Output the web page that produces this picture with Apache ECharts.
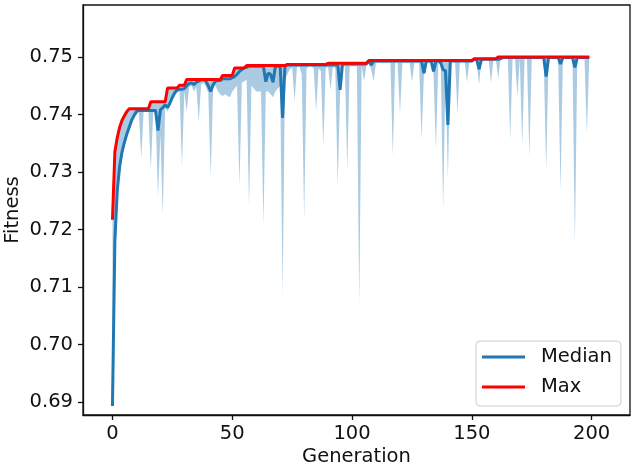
<!DOCTYPE html>
<html>
<head>
<meta charset="utf-8">
<script src="https://cdn.jsdelivr.net/npm/echarts@6/dist/echarts.min.js"></script>
<style>
  html, body { margin: 0; padding: 0; background: #fff; }
  #chart { width: 634px; height: 468px; }
</style>
</head>
<body>
<div id="chart"></div>
<script>
// best fitness per generation
const maxFit = [
  0.7217, 0.7335, 0.7360, 0.7378, 0.7390, 0.7398, 0.7405, 0.7410, 0.7410, 0.7410,
  0.7410, 0.7410, 0.7410, 0.7410, 0.7410, 0.7410, 0.7422, 0.7422, 0.7422, 0.7422,
  0.7422, 0.7422, 0.7422, 0.7446, 0.7446, 0.7446, 0.7446, 0.7446, 0.7451, 0.7451,
  0.7451, 0.7461, 0.7461, 0.7461, 0.7461, 0.7461, 0.7461, 0.7461, 0.7461, 0.7461,
  0.7461, 0.7461, 0.7461, 0.7461, 0.7461, 0.7461, 0.7468, 0.7468, 0.7468, 0.7468,
  0.7468, 0.7481, 0.7481, 0.7481, 0.7481, 0.7481, 0.7485, 0.7485, 0.7485, 0.7485,
  0.7485, 0.7485, 0.7485, 0.7485, 0.7485, 0.7485, 0.7485, 0.7485, 0.7485, 0.7485,
  0.7485, 0.7485, 0.7485, 0.7487, 0.7487, 0.7487, 0.7487, 0.7487, 0.7487, 0.7487,
  0.7487, 0.7487, 0.7487, 0.7487, 0.7487, 0.7487, 0.7487, 0.7487, 0.7487, 0.7487,
  0.7489, 0.7489, 0.7489, 0.7489, 0.7489, 0.7489, 0.7489, 0.7489, 0.7489, 0.7489,
  0.7489, 0.7489, 0.7489, 0.7489, 0.7489, 0.7489, 0.7489, 0.7494, 0.7494, 0.7494,
  0.7494, 0.7494, 0.7494, 0.7494, 0.7494, 0.7494, 0.7494, 0.7494, 0.7494, 0.7494,
  0.7494, 0.7494, 0.7494, 0.7494, 0.7494, 0.7494, 0.7494, 0.7494, 0.7494, 0.7494,
  0.7494, 0.7494, 0.7494, 0.7494, 0.7494, 0.7494, 0.7494, 0.7494, 0.7494, 0.7494,
  0.7494, 0.7494, 0.7494, 0.7494, 0.7494, 0.7494, 0.7494, 0.7494, 0.7494, 0.7494,
  0.7494, 0.7497, 0.7497, 0.7497, 0.7497, 0.7497, 0.7497, 0.7497, 0.7497, 0.7497,
  0.7497, 0.7500, 0.7500, 0.7500, 0.7500, 0.7500, 0.7500, 0.7500, 0.7500, 0.7500,
  0.7500, 0.7500, 0.7500, 0.7500, 0.7500, 0.7500, 0.7500, 0.7500, 0.7500, 0.7500,
  0.7500, 0.7500, 0.7500, 0.7500, 0.7500, 0.7500, 0.7500, 0.7500, 0.7500, 0.7500,
  0.7500, 0.7500, 0.7500, 0.7500, 0.7500, 0.7500, 0.7500, 0.7500, 0.7500, 0.7500
]

// median fitness per generation
const medianFit = [
  0.6893, 0.7180, 0.7268, 0.7310, 0.7335, 0.7352, 0.7366, 0.7378, 0.7390, 0.7398,
  0.7405, 0.7407, 0.7407, 0.7407, 0.7407, 0.7407, 0.7407, 0.7407, 0.7407, 0.7372,
  0.7408, 0.7412, 0.7417, 0.7412, 0.7420, 0.7430, 0.7438, 0.7443, 0.7444, 0.7444,
  0.7445, 0.7450, 0.7454, 0.7455, 0.7452, 0.7456, 0.7458, 0.7460, 0.7461, 0.7458,
  0.7450, 0.7440, 0.7452, 0.7458, 0.7459, 0.7459, 0.7462, 0.7462, 0.7462, 0.7462,
  0.7464, 0.7466, 0.7470, 0.7475, 0.7478, 0.7481, 0.7482, 0.7484, 0.7484, 0.7484,
  0.7484, 0.7484, 0.7484, 0.7484, 0.7457, 0.7472, 0.7470, 0.7456, 0.7484, 0.7484,
  0.7484, 0.7394, 0.7485, 0.7486, 0.7486, 0.7486, 0.7486, 0.7486, 0.7486, 0.7486,
  0.7486, 0.7486, 0.7486, 0.7486, 0.7486, 0.7486, 0.7486, 0.7486, 0.7486, 0.7486,
  0.7486, 0.7486, 0.7486, 0.7486, 0.7488, 0.7443, 0.7488, 0.7488, 0.7488, 0.7488,
  0.7488, 0.7488, 0.7488, 0.7488, 0.7488, 0.7488, 0.7488, 0.7493, 0.7486, 0.7493,
  0.7493, 0.7493, 0.7493, 0.7493, 0.7493, 0.7493, 0.7493, 0.7493, 0.7493, 0.7493,
  0.7493, 0.7493, 0.7493, 0.7493, 0.7493, 0.7493, 0.7493, 0.7493, 0.7493, 0.7493,
  0.7472, 0.7493, 0.7493, 0.7493, 0.7475, 0.7493, 0.7493, 0.7490, 0.7478, 0.7476,
  0.7382, 0.7493, 0.7493, 0.7493, 0.7493, 0.7493, 0.7493, 0.7493, 0.7493, 0.7493,
  0.7493, 0.7496, 0.7496, 0.7479, 0.7496, 0.7496, 0.7496, 0.7496, 0.7496, 0.7496,
  0.7496, 0.7496, 0.7497, 0.7499, 0.7499, 0.7499, 0.7499, 0.7499, 0.7499, 0.7499,
  0.7499, 0.7499, 0.7499, 0.7499, 0.7499, 0.7499, 0.7499, 0.7499, 0.7499, 0.7499,
  0.7499, 0.7466, 0.7499, 0.7499, 0.7499, 0.7499, 0.7499, 0.7488, 0.7499, 0.7499,
  0.7499, 0.7499, 0.7499, 0.7482, 0.7499, 0.7499, 0.7499, 0.7499, 0.7499, 0.7499
]

// lower edge of the shaded spread
const lowFit = [
  0.6885, 0.7160, 0.7250, 0.7295, 0.7325, 0.7345, 0.7360, 0.7372, 0.7385, 0.7395,
  0.7403, 0.7405, 0.7324, 0.7405, 0.7405, 0.7405, 0.7304, 0.7405, 0.7400, 0.7256,
  0.7365, 0.7226, 0.7412, 0.7405, 0.7415, 0.7425, 0.7432, 0.7438, 0.7440, 0.7310,
  0.7440, 0.7405, 0.7448, 0.7450, 0.7440, 0.7448, 0.7388, 0.7452, 0.7455, 0.7448,
  0.7438, 0.7291, 0.7445, 0.7450, 0.7440, 0.7435, 0.7432, 0.7435, 0.7432, 0.7430,
  0.7440, 0.7445, 0.7450, 0.7275, 0.7455, 0.7458, 0.7460, 0.7240, 0.7450, 0.7445,
  0.7440, 0.7440, 0.7440, 0.7208, 0.7440, 0.7440, 0.7435, 0.7430, 0.7440, 0.7445,
  0.7450, 0.7085, 0.7460, 0.7470, 0.7478, 0.7482, 0.7423, 0.7482, 0.7484, 0.7470,
  0.7216, 0.7480, 0.7484, 0.7484, 0.7480, 0.7405, 0.7480, 0.7475, 0.7345, 0.7480,
  0.7484, 0.7443, 0.7484, 0.7480, 0.7275, 0.7440, 0.7484, 0.7484, 0.7304, 0.7484,
  0.7484, 0.7484, 0.7484, 0.7066, 0.7484, 0.7458, 0.7486, 0.7488, 0.7478, 0.7458,
  0.7490, 0.7490, 0.7490, 0.7490, 0.7490, 0.7490, 0.7490, 0.7328, 0.7490, 0.7490,
  0.7400, 0.7490, 0.7490, 0.7490, 0.7490, 0.7457, 0.7490, 0.7490, 0.7490, 0.7356,
  0.7470, 0.7490, 0.7490, 0.7490, 0.7470, 0.7339, 0.7490, 0.7490, 0.7234, 0.7470,
  0.7290, 0.7490, 0.7492, 0.7492, 0.7401, 0.7492, 0.7492, 0.7492, 0.7456, 0.7493,
  0.7493, 0.7493, 0.7493, 0.7452, 0.7495, 0.7495, 0.7495, 0.7495, 0.7455, 0.7496,
  0.7496, 0.7463, 0.7497, 0.7498, 0.7498, 0.7498, 0.7356, 0.7498, 0.7498, 0.7431,
  0.7498, 0.7345, 0.7498, 0.7498, 0.7327, 0.7498, 0.7498, 0.7498, 0.7498, 0.7498,
  0.7498, 0.7302, 0.7498, 0.7498, 0.7498, 0.7498, 0.7498, 0.7267, 0.7498, 0.7498,
  0.7498, 0.7498, 0.7498, 0.7174, 0.7498, 0.7498, 0.7498, 0.7498, 0.7368, 0.7498
]

const chart = echarts.init(document.getElementById('chart'))

const pts = arr => arr.map((v, i) => [i, v])

const font = 'DejaVu Sans'
const fs = 19.5
const ink = '#111'

// shaded spread between lowFit and maxFit, drawn as one polygon through the axes
const renderSpread = (params, api) => {
  const top = maxFit.map((v, i) => api.coord([i, v]))
  const bottom = lowFit.map((v, i) => api.coord([i, v])).reverse()
  return {
    type: 'polygon',
    shape: { points: top.concat(bottom) },
    style: { fill: 'rgba(31,119,180,0.38)' }
  }
}

const option = {
  animation: false,
  textStyle: { fontFamily: font },
  grid: {
    left: 83, right: 4, top: 5, bottom: 53,
    outerBoundsMode: 'none',
    containLabel: false,
    show: true, borderColor: ink, borderWidth: 1.3
  },
  legend: {
    data: ['Median', 'Max'],
    orient: 'vertical',
    left: 476, top: 341,
    icon: 'rect',
    itemWidth: 43, itemHeight: 3,
    itemGap: 8,
    padding: [5, 9, 8, 6],
    borderColor: '#ccc', borderWidth: 1, borderRadius: 4,
    backgroundColor: 'rgba(255,255,255,0.8)',
    textStyle: { fontFamily: font, fontSize: fs, color: ink, lineHeight: 22, padding: [0, 0, 0, 11] }
  },
  xAxis: {
    type: 'value',
    min: -12.3, max: 216,
    splitNumber: 5,
    name: 'Generation',
    nameLocation: 'middle',
    nameGap: 32,
    nameMoveOverlap: false,
    nameTextStyle: { fontFamily: font, fontSize: fs, color: ink },
    axisLine: { show: true, onZero: false, lineStyle: { color: ink, width: 1.3 } },
    axisTick: { show: true, length: 5, lineStyle: { color: ink, width: 1.3 } },
    axisLabel: { fontFamily: font, fontSize: fs, color: ink, margin: 9, showMinLabel: false, showMaxLabel: false },
    splitLine: { show: false }
  },
  yAxis: {
    type: 'value',
    min: 0.68774, max: 0.75904,
    splitNumber: 7,
    name: 'Fitness',
    nameLocation: 'middle',
    nameGap: 60,
    nameMoveOverlap: false,
    nameTextStyle: { fontFamily: font, fontSize: fs, color: ink },
    axisLine: { show: true, onZero: false, lineStyle: { color: ink, width: 1.3 } },
    axisTick: { show: true, length: 5, lineStyle: { color: ink, width: 1.3 } },
    axisLabel: {
      fontFamily: font, fontSize: fs, color: ink, margin: 10,
      showMinLabel: false, showMaxLabel: false,
      formatter: v => v.toFixed(2)
    },
    splitLine: { show: false }
  },
  series: [
    {
      name: 'spread',
      type: 'custom',
      renderItem: renderSpread,
      data: [[0, maxFit[0]]],
      silent: true,
      z: 1
    },
    {
      name: 'Median',
      type: 'line',
      data: pts(medianFit),
      showSymbol: false,
      color: '#1f77b4',
      lineStyle: { color: '#1f77b4', width: 3 },
      z: 2
    },
    {
      name: 'Max',
      type: 'line',
      data: pts(maxFit),
      showSymbol: false,
      color: '#ff0000',
      lineStyle: { color: '#ff0000', width: 3 },
      z: 3
    }
  ]
}

chart.setOption(option)
window.addEventListener('resize', () => chart.resize())
</script>
</body>
</html>
